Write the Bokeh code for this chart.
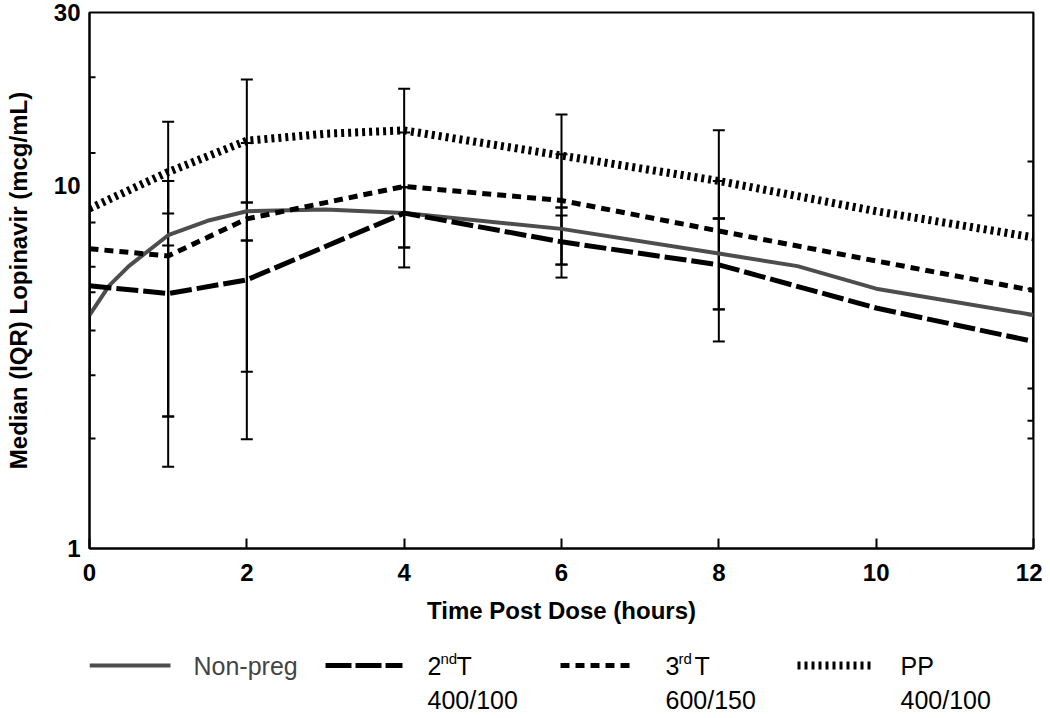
from bokeh.plotting import figure
from bokeh.layouts import column
from bokeh.models import Range1d, FixedTicker, NumeralTickFormatter
from bokeh.core.properties import value
from bokeh.embed import file_html
from bokeh.resources import INLINE

# ---------------- data ----------------
x_ticks = [0, 2, 4, 6, 8, 10, 12]
y_ticks = [1, 10, 30]

nonpreg_t = [0, 0.25, 0.5, 1, 1.5, 2, 3, 4, 6, 8, 9, 10, 12]
nonpreg_v = [4.4, 5.3, 6.0, 7.3, 8.0, 8.5, 8.6, 8.4, 7.6, 6.5, 6.0, 5.2, 4.4]

t2_t = [0, 1, 2, 4, 6, 8, 10, 12]
t2_v = [5.3, 5.04, 5.5, 8.4, 7.0, 6.05, 4.6, 3.72]

t3_t = [0, 1, 2, 4, 6, 8, 10, 12]
t3_v = [6.7, 6.4, 8.1, 9.95, 9.1, 7.5, 6.2, 5.14]

pp_t = [0, 1, 2, 3, 4, 6, 8, 10, 12]
pp_v = [8.65, 10.9, 13.3, 13.9, 14.2, 12.1, 10.3, 8.5, 7.2]

# IQR (error bars) at sampling times
iqr_t = [0, 1, 2, 4, 6, 8, 12]
nonpreg_q3 = [5.08, 10.3, 8.98, 9.9, 8.7, 8.12, 8.27]
nonpreg_q1 = [2.01, 2.31, 7.06, 6.75, 6.06, 4.56, 2.25]
t2_q3 = [7.91, 6.84, 7.06, 9.9, 8.27, 8.12, 5.2]
t2_q1 = [3.0, 1.68, 2.0, 5.95, 5.58, 3.72, 2.01]
t3_q3 = [12.3, 10.3, 13.1, 14.0, 12.2, 10.3, 11.65]
t3_q1 = [3.99, 2.31, 3.07, 6.75, 6.06, 4.56, 2.76]
pp_q3 = [19.9, 15.0, 19.6, 18.5, 15.7, 14.2, 35.0]
pp_q1 = [5.98, 8.38, 8.98, 8.38, 8.7, 8.12, 4.39]

legend_names = ["Non-preg", "2", "3", "PP"]
legend_sup = ["", "nd", "rd", ""]
legend_doses = ["", "400/100", "600/150", "400/100"]

FONT = "Liberation Sans"
W = 1042

# ---------------- main plot ----------------
p = figure(width=W, height=640, x_range=Range1d(0, 12), y_range=Range1d(1, 30),
           y_axis_type="log", output_backend="svg", toolbar_location=None,
           min_border_left=89, min_border_right=9, min_border_top=12, min_border_bottom=92)
p.background_fill_color = "white"
p.border_fill_color = "white"
p.xgrid.visible = False
p.ygrid.visible = False
p.outline_line_color = "black"
p.outline_line_width = 2

p.xaxis.ticker = FixedTicker(ticks=x_ticks)
p.yaxis.ticker = FixedTicker(ticks=y_ticks)
p.yaxis.formatter = NumeralTickFormatter(format="0")
p.xaxis.minor_tick_line_color = None
p.yaxis.minor_tick_line_color = None
p.xaxis.major_tick_in = 10
p.xaxis.major_tick_out = 0
p.yaxis.major_tick_in = 0
p.yaxis.major_tick_out = 0
for ax in (p.xaxis, p.yaxis):
    ax.axis_line_color = "black"
    ax.axis_line_width = 2
    ax.major_tick_line_color = "black"
    ax.major_tick_line_width = 2
    ax.major_label_text_font = FONT
    ax.major_label_text_font_style = "bold"
    ax.major_label_text_font_size = "24px"
    ax.major_label_text_color = "black"
    ax.axis_label_text_font = FONT
    ax.axis_label_text_font_style = "bold"
    ax.axis_label_text_font_size = "24px"
    ax.axis_label_text_color = "black"
p.xaxis.major_label_standoff = 15
p.xaxis.axis_label_standoff = 13
p.yaxis.major_label_standoff = 9
p.yaxis.axis_label_standoff = 19
p.xaxis.axis_label = "Time Post Dose (hours)"
p.yaxis.axis_label = "Median (IQR) Lopinavir (mcg/mL)"

# error bars
for q1, q3 in [(nonpreg_q1, nonpreg_q3), (t2_q1, t2_q3), (t3_q1, t3_q3), (pp_q1, pp_q3)]:
    p.segment(x0=iqr_t, y0=q1, x1=iqr_t, y1=q3, line_color="black", line_width=2)
    p.dash(x=iqr_t, y=q1, size=12, line_color="black", line_width=2)
    p.dash(x=iqr_t, y=q3, size=12, line_color="black", line_width=2)

# series lines
p.line(nonpreg_t, nonpreg_v, line_color="#4d4d4d", line_width=4)
p.line(t2_t, t2_v, line_color="black", line_width=5, line_dash="22 5")
p.line(t3_t, t3_v, line_color="black", line_width=5, line_dash="9 6")
p.line(pp_t, pp_v, line_color="black", line_width=8, line_dash="3 4")

# ---------------- legend strip ----------------
LH = 72
lg = figure(width=W, height=LH, x_range=Range1d(89, 1033), y_range=Range1d(LH, 0),
            output_backend="svg", toolbar_location=None,
            min_border_left=89, min_border_right=9, min_border_top=0, min_border_bottom=0,
            x_axis_location=None, y_axis_location=None)
lg.xgrid.visible = False
lg.ygrid.visible = False
lg.outline_line_color = None
lg.background_fill_color = "white"
lg.border_fill_color = "white"

ry1, ry2 = 25, 59
lg.line([89, 170], [ry1, ry1], line_color="#4d4d4d", line_width=4)
lg.line([325, 402], [ry1, ry1], line_color="black", line_width=5, line_dash="26 4")
lg.line([560, 633], [ry1, ry1], line_color="black", line_width=5, line_dash="9 6")
lg.line([797, 873], [ry1, ry1], line_color="black", line_width=8, line_dash="3 4")

txt_x = [193, 427, 665, 900]
kw = dict(text_font=value(FONT), text_font_size="25px", text_align="left",
          text_baseline="middle")
lg.text(x=[txt_x[0]], y=[ry1], text=[legend_names[0]], text_color="#444444", **kw)
for i in (1, 2):
    lg.text(x=[txt_x[i]], y=[ry1], text=[legend_names[i]], text_color="black", **kw)
    lg.text(x=[txt_x[i] + 13], y=[ry1 - 7], text=[legend_sup[i]], text_color="black",
            text_font=value(FONT), text_font_size="15px", text_align="left",
            text_baseline="middle")
    lg.text(x=[txt_x[i] + 29], y=[ry1], text=["T"], text_color="black", **kw)
lg.text(x=[txt_x[3]], y=[ry1], text=[legend_names[3]], text_color="black", **kw)
for i in (1, 2, 3):
    lg.text(x=[txt_x[i]], y=[ry2], text=[legend_doses[i]], text_color="black", **kw)

layout = column(p, lg)
open("out.html", "w").write(file_html(layout, INLINE))
